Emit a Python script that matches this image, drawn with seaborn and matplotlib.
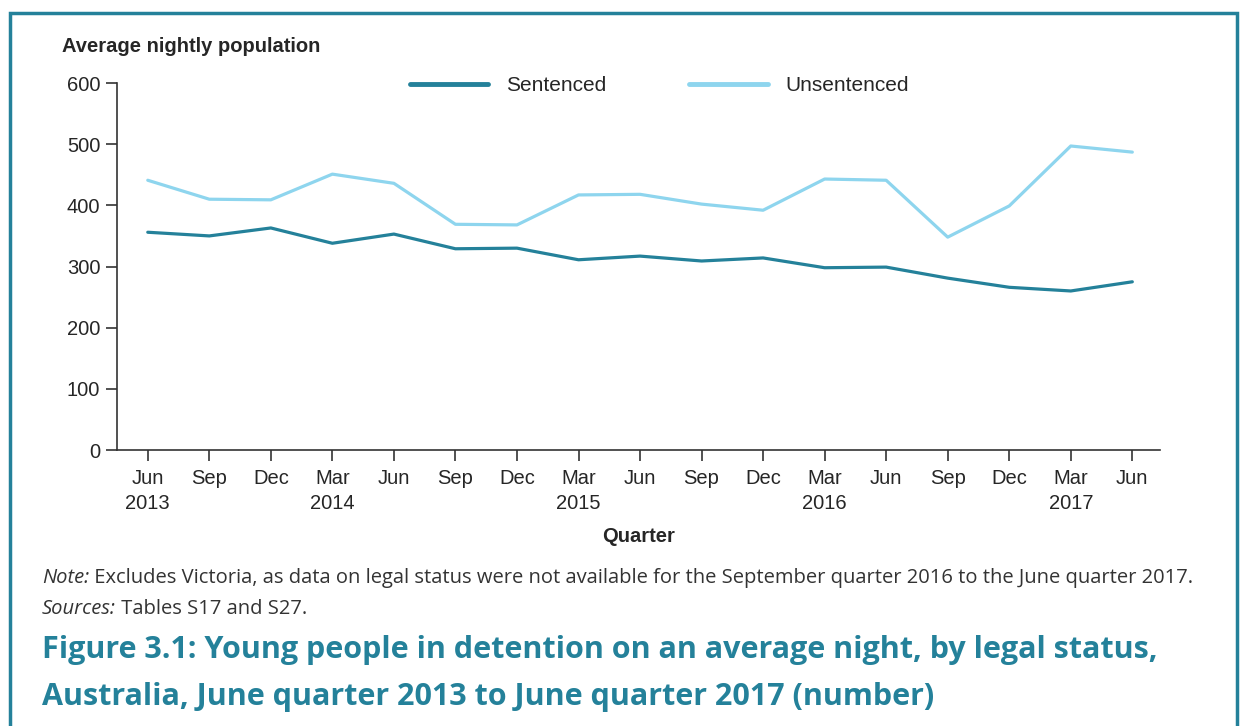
import matplotlib.pyplot as plt
import pandas as pd
import seaborn as sns
from matplotlib.patches import Rectangle

# Data
quarters = ['Jun\n2013', 'Sep', 'Dec', 'Mar\n2014', 'Jun', 'Sep', 'Dec', 'Mar\n2015', 'Jun',
            'Sep', 'Dec', 'Mar\n2016', 'Jun', 'Sep', 'Dec', 'Mar\n2017', 'Jun']
sentenced = [356, 350, 363, 338, 353, 329, 330, 311, 317, 309, 314, 298, 299, 281, 266, 260, 275]
unsentenced = [441, 410, 409, 451, 436, 369, 368, 417, 418, 402, 392, 443, 441, 348, 399, 497, 487]

teal = '#24819a'
light = '#8ed5ee'
note_font = ['Open Sans', 'DejaVu Sans']

df = pd.DataFrame({
    'q': list(range(len(quarters))) * 2,
    'value': sentenced + unsentenced,
    'status': ['Sentenced'] * len(sentenced) + ['Unsentenced'] * len(unsentenced),
})

sns.set_style('ticks')
plt.rcParams['font.family'] = ['Liberation Sans', 'DejaVu Sans']

fig = plt.figure(figsize=(12.4, 7.26), dpi=100)
ax = fig.add_axes([117 / 1240, 1 - 450 / 726, (1160 - 117) / 1240, (450 - 83) / 726])

sns.lineplot(data=df, x='q', y='value', hue='status', ax=ax,
             palette={'Sentenced': teal, 'Unsentenced': light}, linewidth=2.3)

ax.set_xlim(-0.5, 16.45)
ax.set_ylim(0, 600)
ax.set_yticks(range(0, 601, 100))
ax.set_xticks(range(len(quarters)))
ax.set_xticklabels(quarters, fontsize=14.5, linespacing=1.4, ha='center')
ax.tick_params(axis='y', labelsize=14.5, length=8, width=1.2, color='#333333', pad=4)
ax.tick_params(axis='x', length=8, width=1.2, color='#333333', pad=6)
sns.despine(ax=ax)
for s in ['left', 'bottom']:
    ax.spines[s].set_color('#333333')
    ax.spines[s].set_linewidth(1.2)
ax.set_xlabel('Quarter', fontsize=14.5, fontweight='bold', labelpad=10)
ax.set_ylabel('')

leg = ax.legend(loc='center', bbox_to_anchor=(0.52, 0.993), ncol=2, frameon=False,
                fontsize=15, handlelength=3.75, columnspacing=4.0, handletextpad=0.85)
for line in leg.get_lines():
    line.set_linewidth(3.5)

fig.text(62 / 1240, 1 - 46 / 726, 'Average nightly population', fontsize=14.5,
         fontweight='bold', va='center', ha='left')

# Notes: italic lead-in followed by regular text
renderer = fig.canvas.get_renderer()
for y, lead, rest in [(578, 'Note:', ' Excludes Victoria, as data on legal status were not available '
                       'for the September quarter 2016 to the June quarter 2017.'),
                      (609, 'Sources:', ' Tables S17 and S27.')]:
    t = fig.text(42 / 1240, 1 - y / 726, lead, fontsize=14.5, va='center', ha='left',
                 color='#333333', style='italic', family=note_font)
    bb = t.get_window_extent(renderer)
    fig.text(bb.x1 / 1240, 1 - y / 726, rest, fontsize=14.5, va='center', ha='left',
             color='#333333', family=note_font)

fig.text(42 / 1240, 1 - 650 / 726,
         'Figure 3.1: Young people in detention on an average night, by legal status,',
         fontsize=22, fontweight='bold', color=teal, va='center', ha='left', family=note_font)
fig.text(42 / 1240, 1 - 697 / 726,
         'Australia, June quarter 2013 to June quarter 2017 (number)',
         fontsize=22, fontweight='bold', color=teal, va='center', ha='left', family=note_font)

fig.patches.append(Rectangle((10 / 1240, -0.05), 1227 / 1240, 1.05 - 13 / 726,
                             transform=fig.transFigure, fill=False,
                             edgecolor=teal, linewidth=2.5))

fig.savefig('out.png', dpi=100)
